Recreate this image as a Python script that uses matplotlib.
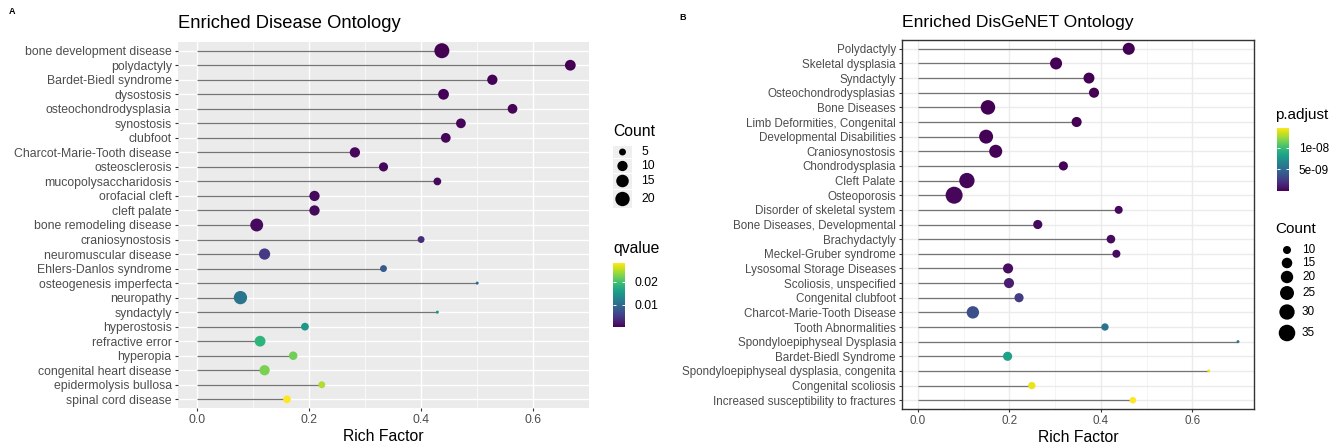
import matplotlib
matplotlib.use('Agg')
import matplotlib.pyplot as plt
import numpy as np
from matplotlib.colors import Normalize
from matplotlib.cm import ScalarMappable
from matplotlib.patches import Rectangle

plt.rcParams['font.family'] = ['Liberation Sans', 'DejaVu Sans']

# ---------------- data: Enriched Disease Ontology ----------------
do_terms = ["bone development disease", "polydactyly", "Bardet-Biedl syndrome", "dysostosis",
            "osteochondrodysplasia", "synostosis", "clubfoot", "Charcot-Marie-Tooth disease",
            "osteosclerosis", "mucopolysaccharidosis", "orofacial cleft", "cleft palate",
            "bone remodeling disease", "craniosynostosis", "neuromuscular disease",
            "Ehlers-Danlos syndrome", "osteogenesis imperfecta", "neuropathy", "syndactyly",
            "hyperostosis", "refractive error", "hyperopia", "congenital heart disease",
            "epidermolysis bullosa", "spinal cord disease"]
do_rich = [0.437, 0.666, 0.527, 0.440, 0.563, 0.471, 0.444, 0.282, 0.333, 0.429, 0.210, 0.210,
           0.107, 0.400, 0.121, 0.333, 0.500, 0.078, 0.429, 0.193, 0.113, 0.172, 0.121, 0.223, 0.161]
do_count = [22, 11, 10, 11, 9, 9, 9, 10, 8, 6, 10, 10, 16, 5, 12, 5, 3, 17, 3, 6, 11, 7, 10, 5, 6]
do_qvalue = [0.0004, 0.0005, 0.0006, 0.0006, 0.0007, 0.0008, 0.0008, 0.0009, 0.0010, 0.0011,
             0.0011, 0.0011, 0.0012, 0.0038, 0.0052, 0.0080, 0.0096, 0.0110, 0.0143, 0.0150,
             0.0184, 0.0220, 0.0225, 0.0247, 0.0280]
do_size_legend = [5, 10, 15, 20]
do_q_ticks = [0.01, 0.02]
do_q_ticklabels = ["0.01", "0.02"]

# ---------------- data: Enriched DisGeNET Ontology ----------------
dg_terms = ["Polydactyly", "Skeletal dysplasia", "Syndactyly", "Osteochondrodysplasias",
            "Bone Diseases", "Limb Deformities, Congenital", "Developmental Disabilities",
            "Craniosynostosis", "Chondrodysplasia", "Cleft Palate", "Osteoporosis",
            "Disorder of skeletal system", "Bone Diseases, Developmental", "Brachydactyly",
            "Meckel-Gruber syndrome", "Lysosomal Storage Diseases", "Scoliosis, unspecified",
            "Congenital clubfoot", "Charcot-Marie-Tooth Disease", "Tooth Abnormalities",
            "Spondyloepiphyseal Dysplasia", "Bardet-Biedl Syndrome",
            "Spondyloepiphyseal dysplasia, congenita", "Congenital scoliosis",
            "Increased susceptibility to fractures"]
dg_rich = [0.461, 0.302, 0.374, 0.385, 0.153, 0.347, 0.149, 0.170, 0.318, 0.107, 0.079, 0.439,
           0.262, 0.422, 0.434, 0.197, 0.199, 0.221, 0.120, 0.409, 0.700, 0.196, 0.636, 0.249, 0.470]
dg_count = [19, 19, 16, 14, 27, 14, 25, 22, 12, 30, 37, 10, 12, 11, 10, 14, 14, 12, 20, 9, 6,
            12, 6, 9, 8]
dg_padj = [1e-12, 5e-12, 1e-11, 2e-11, 3e-11, 5e-11, 8e-11, 1e-10, 1.5e-10, 2e-10, 2.5e-10,
           3e-10, 3.5e-10, 4e-10, 4.5e-10, 5e-10, 1.2e-9, 2.6e-9, 3.5e-9, 5.6e-9, 6.0e-9,
           8.3e-9, 1.41e-8, 1.40e-8, 1.45e-8]
dg_size_legend = [10, 15, 20, 25, 30, 35]
dg_p_ticks = [5e-9, 1e-8]
dg_p_ticklabels = ["5e-09", "1e-08"]

x_ticks = [0.0, 0.2, 0.4, 0.6]
x_ticklabels = ["0.0", "0.2", "0.4", "0.6"]

# ---------------- figure ----------------
W, H = 1331, 445
DPI = 100
fig = plt.figure(figsize=(W / DPI, H / DPI), dpi=DPI)


def px_axes(l, t, r, b):
    return fig.add_axes([l / W, 1 - b / H, (r - l) / W, (b - t) / H])


def size_fn(counts, cmin, cmax, dmin, dmax):
    c = np.asarray(counts, float)
    d = dmin + (dmax - dmin) * np.sqrt(np.clip((c - cmin) / (cmax - cmin), 0, 1))
    return (d * 72.0 / DPI) ** 2


TICK_COL = '#333333'
LAB_COL = '#4d4d4d'


def draw_panel(ax, terms, rich, count, colorval, norm, dmin, dmax, bw, fs):
    n = len(terms)
    y = np.arange(n)
    ax.hlines(y, 0, rich, color='#747474', lw=0.9, zorder=2)
    ax.scatter(rich, y, s=size_fn(count, min(count), max(count), dmin, dmax),
               c=colorval, cmap='viridis', norm=norm, zorder=3, linewidths=0)
    xmax = max(rich)
    ax.set_xlim(-0.05 * xmax, 1.05 * xmax)
    ax.set_ylim(n - 1 + 0.6, -0.6)
    ax.set_yticks(y)
    ax.set_yticklabels(terms)
    ax.set_xticks(x_ticks)
    ax.set_xticklabels(x_ticklabels)
    ax.set_xticks([0.1, 0.3, 0.5], minor=True)
    ax.tick_params(which='major', length=2.5, width=0.8, color=TICK_COL,
                   labelcolor=LAB_COL, labelsize=fs, pad=2)
    ax.tick_params(which='minor', length=0)
    ax.set_axisbelow(True)
    if bw:
        ax.set_facecolor('white')
        ax.grid(which='major', color='#ebebeb', lw=1.0)
        ax.grid(which='minor', axis='x', color='#f2f2f2', lw=0.6)
        for s in ax.spines.values():
            s.set_color(TICK_COL)
            s.set_linewidth(1.0)
    else:
        ax.set_facecolor('#ebebeb')
        ax.grid(which='major', color='white', lw=1.0)
        ax.grid(which='minor', axis='x', color='white', lw=0.5)
        for s in ax.spines.values():
            s.set_visible(False)
    ax.set_xlabel('Rich Factor', fontsize=11.3, color='black', labelpad=2)


# Left panel
ax1 = px_axes(178, 42, 589, 408)
norm1 = Normalize(min(do_qvalue), max(do_qvalue))
draw_panel(ax1, do_terms, do_rich, do_count, do_qvalue, norm1, 3.0, 15.0, bw=False, fs=8.8)

# Right panel
ax2 = px_axes(902, 40, 1254, 409)
norm2 = Normalize(min(dg_padj), max(dg_padj))
draw_panel(ax2, dg_terms, dg_rich, dg_count, dg_padj, norm2, 3.0, 17.0, bw=True, fs=8.4)

# Titles and panel letters
fig.text(178 / W, 1 - 24 / H, 'Enriched Disease Ontology', fontsize=13.2, ha='left', va='center')
fig.text(902 / W, 1 - 23 / H, 'Enriched DisGeNET Ontology', fontsize=12.6, ha='left', va='center')
fig.text(12 / W, 1 - 12 / H, 'A', fontsize=6.5, fontweight='bold', ha='center', va='center')
fig.text(683 / W, 1 - 17 / H, 'B', fontsize=6.5, fontweight='bold', ha='center', va='center')

# Overlay for legends (pixel coordinates)
ov = fig.add_axes([0, 0, 1, 1], zorder=5)
ov.set_xlim(0, W)
ov.set_ylim(H, 0)
ov.axis('off')
ov.patch.set_alpha(0)

# Left Count legend
ov.text(613, 132, 'Count', fontsize=11.3, ha='left', va='center')
leg1_y = [152, 166, 181, 199]
tiles = [(146, 158), (159, 173), (174, 189), (190, 208)]
for (t0, t1) in tiles:
    ov.add_patch(Rectangle((613, t0), 19, t1 - t0, facecolor='#efefef', edgecolor='none'))
ov.scatter([622.5] * len(do_size_legend), leg1_y,
           s=size_fn(do_size_legend, min(do_count), max(do_count), 3.0, 15.0),
           color='black', linewidths=0, zorder=3)
for v, yy in zip(do_size_legend, leg1_y):
    ov.text(641, yy, str(v), fontsize=8.8, ha='left', va='center')

# Left qvalue legend
ov.text(613, 248, 'qvalue', fontsize=11.3, ha='left', va='center')
cax1 = px_axes(613, 263, 625, 327)
cb1 = fig.colorbar(ScalarMappable(norm=norm1, cmap='viridis'), cax=cax1)
cb1.set_ticks(do_q_ticks)
cb1.set_ticklabels(do_q_ticklabels)
cb1.outline.set_visible(False)
cax1.tick_params(direction='in', color='white', length=2.5, width=0.7,
                 left=True, right=True, labelsize=8.8, pad=7)
cax1.minorticks_off()

# Right p.adjust legend
ov.text(1275, 115, 'p.adjust', fontsize=11, ha='left', va='center')
cax2 = px_axes(1277, 128, 1289, 191)
cb2 = fig.colorbar(ScalarMappable(norm=norm2, cmap='viridis'), cax=cax2)
cb2.set_ticks(dg_p_ticks)
cb2.set_ticklabels(dg_p_ticklabels)
cb2.outline.set_visible(False)
cax2.tick_params(direction='in', color='white', length=2.5, width=0.7,
                 left=True, right=True, labelsize=8.5, pad=7)
cax2.minorticks_off()

# Right Count legend
ov.text(1275, 229, 'Count', fontsize=11, ha='left', va='center')
leg2_y = [250, 263, 277, 293, 312, 333]
ov.scatter([1287] * len(dg_size_legend), leg2_y,
           s=size_fn(dg_size_legend, min(dg_count), max(dg_count), 3.0, 17.0),
           color='black', linewidths=0, zorder=3)
for v, yy in zip(dg_size_legend, leg2_y):
    ov.text(1302, yy, str(v), fontsize=8.5, ha='left', va='center')

fig.savefig('out.png', dpi=DPI)
